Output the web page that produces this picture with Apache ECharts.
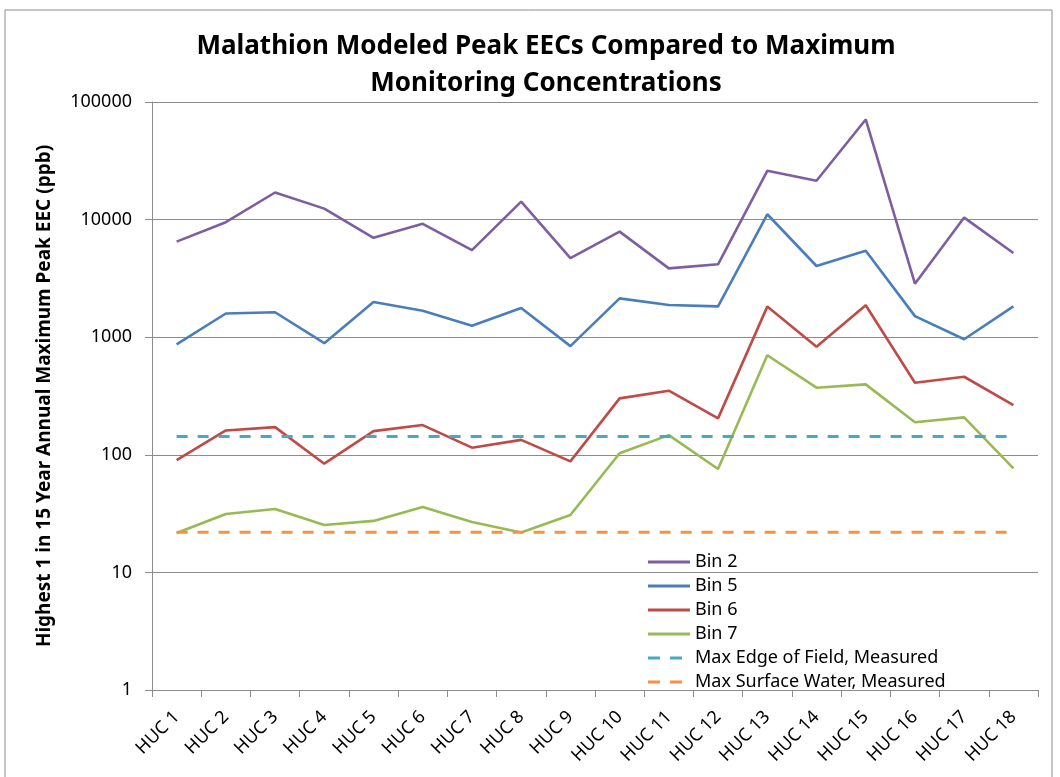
<!DOCTYPE html>
<html>
	<head>
		<meta charset="UTF-8">
		<title>Malathion Peak EECs</title>
		<style>
			html, body { margin: 0; padding: 0; background: #fff; }
			#main { width: 1060px; height: 777px; }
		</style>
	</head>
	<body>
		<div id="main"></div>
	</body>
	<script src="https://cdn.jsdelivr.net/npm/echarts@6/dist/echarts.min.js"></script>
	<script type="text/javascript">
		// categories
		var hucs = ['HUC 1','HUC 2','HUC 3','HUC 4','HUC 5','HUC 6','HUC 7','HUC 8','HUC 9',
			'HUC 10','HUC 11','HUC 12','HUC 13','HUC 14','HUC 15','HUC 16','HUC 17','HUC 18'];
		// series values (ppb)
		var bin2 = [6500, 9500, 17000, 12400, 7000, 9200, 5500, 14200, 4700, 7900, 3850, 4170, 26000, 21400, 71000, 2850, 10400, 5200];
		var bin5 = [870, 1590, 1630, 890, 1990, 1680, 1250, 1770, 840, 2140, 1880, 1830, 11100, 4030, 5440, 1510, 960, 1830];
		var bin6 = [90, 161, 172, 84, 159, 179, 115, 134, 88, 302, 351, 204, 1820, 830, 1870, 410, 461, 265];
		var bin7 = [21.6, 31.4, 34.6, 25.3, 27.4, 36, 26.8, 21.8, 30.8, 103, 147, 75.7, 702, 372, 397, 189, 208, 76.8];
		var maxEdgeOfField = 143;
		var maxSurfaceWater = 22;
		// y tick labels
		var yTicks = [1, 10, 100, 1000, 10000, 100000];

		var font = '"Noto Sans", sans-serif';
		// legend icons: plain line and dashed line
		var solidIcon = 'path://M0,0 L42,0 L42,3 L0,3 Z';
		var dashIcon = 'path://M0,0 L12,0 L12,3 L0,3 Z M22,0 L34,0 L34,3 L22,3 Z M42,0 L42,3 L41.9,3 Z';

		function flat(v){
			var arr = [];
			for(var i=0;i<hucs.length;i++){
				arr.push(v);
			}
			return arr;
		}

		function lineSeries(name, data, color, dashed){
			return {
				name: name,
				type: 'line',
				data: data,
				symbol: 'none',
				showSymbol: false,
				silent: true,
				lineStyle: { color: color, width: dashed ? 3 : 2.6, type: dashed ? [11, 10] : 'solid' },
				itemStyle: { color: color }
			};
		}

		var vChart = echarts.init(document.getElementById('main'));
		var option = {
			backgroundColor: '#fff',
			animation: false,
			title: {
				text: 'Malathion Modeled Peak EECs Compared to Maximum\nMonitoring Concentrations',
				left: 541,
				textAlign: 'center',
				top: 23,
				textStyle: { fontFamily: font, fontSize: 26, fontWeight: 'bold', color: '#000', lineHeight: 37 }
			},
			graphic: [{
				type: 'rect',
				shape: { x: 5, y: 10, width: 1047, height: 800 },
				style: { fill: 'none', stroke: '#8c8c8c', lineWidth: 1 },
				silent: true
			}],
			legend: {
				orient: 'vertical',
				left: 648,
				top: 552,
				padding: 0,
				itemWidth: 42,
				itemHeight: 3,
				itemGap: 4,
				textStyle: { fontFamily: font, fontSize: 18, color: '#000', lineHeight: 20, padding: [0, 0, 0, 0] },
				data: [
					{ name: 'Bin 2', icon: solidIcon },
					{ name: 'Bin 5', icon: solidIcon },
					{ name: 'Bin 6', icon: solidIcon },
					{ name: 'Bin 7', icon: solidIcon },
					{ name: 'Max Edge of Field, Measured', icon: dashIcon },
					{ name: 'Max Surface Water, Measured', icon: dashIcon }
				]
			},
			grid: { left: 152, top: 102, right: 22, bottom: 87, containLabel: false },
			xAxis: {
				type: 'category',
				data: hucs,
				boundaryGap: true,
				axisLine: { lineStyle: { color: '#8c8c8c', width: 1 } },
				axisTick: { show: true, alignWithLabel: false, length: 7, lineStyle: { color: '#8c8c8c' } },
				axisLabel: { rotate: 45, fontFamily: font, fontSize: 18, color: '#000', margin: 24, interval: 0 },
				splitLine: { show: false }
			},
			yAxis: {
				type: 'log',
				logBase: 10,
				min: 1,
				max: 100000,
				name: 'Highest 1 in 15 Year Annual Maximum Peak EEC (ppb)',
				nameLocation: 'middle',
				nameGap: 98,
				nameTextStyle: { fontFamily: font, fontSize: 19, fontWeight: 'bold', color: '#000' },
				axisLine: { show: true, lineStyle: { color: '#8c8c8c', width: 1 } },
				axisTick: { show: true, length: 7, lineStyle: { color: '#8c8c8c' } },
				axisLabel: {
					fontFamily: font, fontSize: 18, color: '#000', margin: 20,
					formatter: function(v){
						var r = Math.round(v);
						return yTicks.indexOf(r) >= 0 ? String(r) : '';
					}
				},
				splitLine: { show: true, lineStyle: { color: '#8c8c8c', width: 1 } },
				minorTick: { show: false },
				minorSplitLine: { show: false }
			},
			series: [
				lineSeries('Bin 2', bin2, '#7d5fa0', false),
				lineSeries('Bin 5', bin5, '#4a7ebb', false),
				lineSeries('Bin 6', bin6, '#be4b48', false),
				lineSeries('Bin 7', bin7, '#98b954', false),
				lineSeries('Max Edge of Field, Measured', flat(maxEdgeOfField), '#46aac5', true),
				lineSeries('Max Surface Water, Measured', flat(maxSurfaceWater), '#f69240', true)
			]
		};
		vChart.setOption(option);
	</script>
</html>
